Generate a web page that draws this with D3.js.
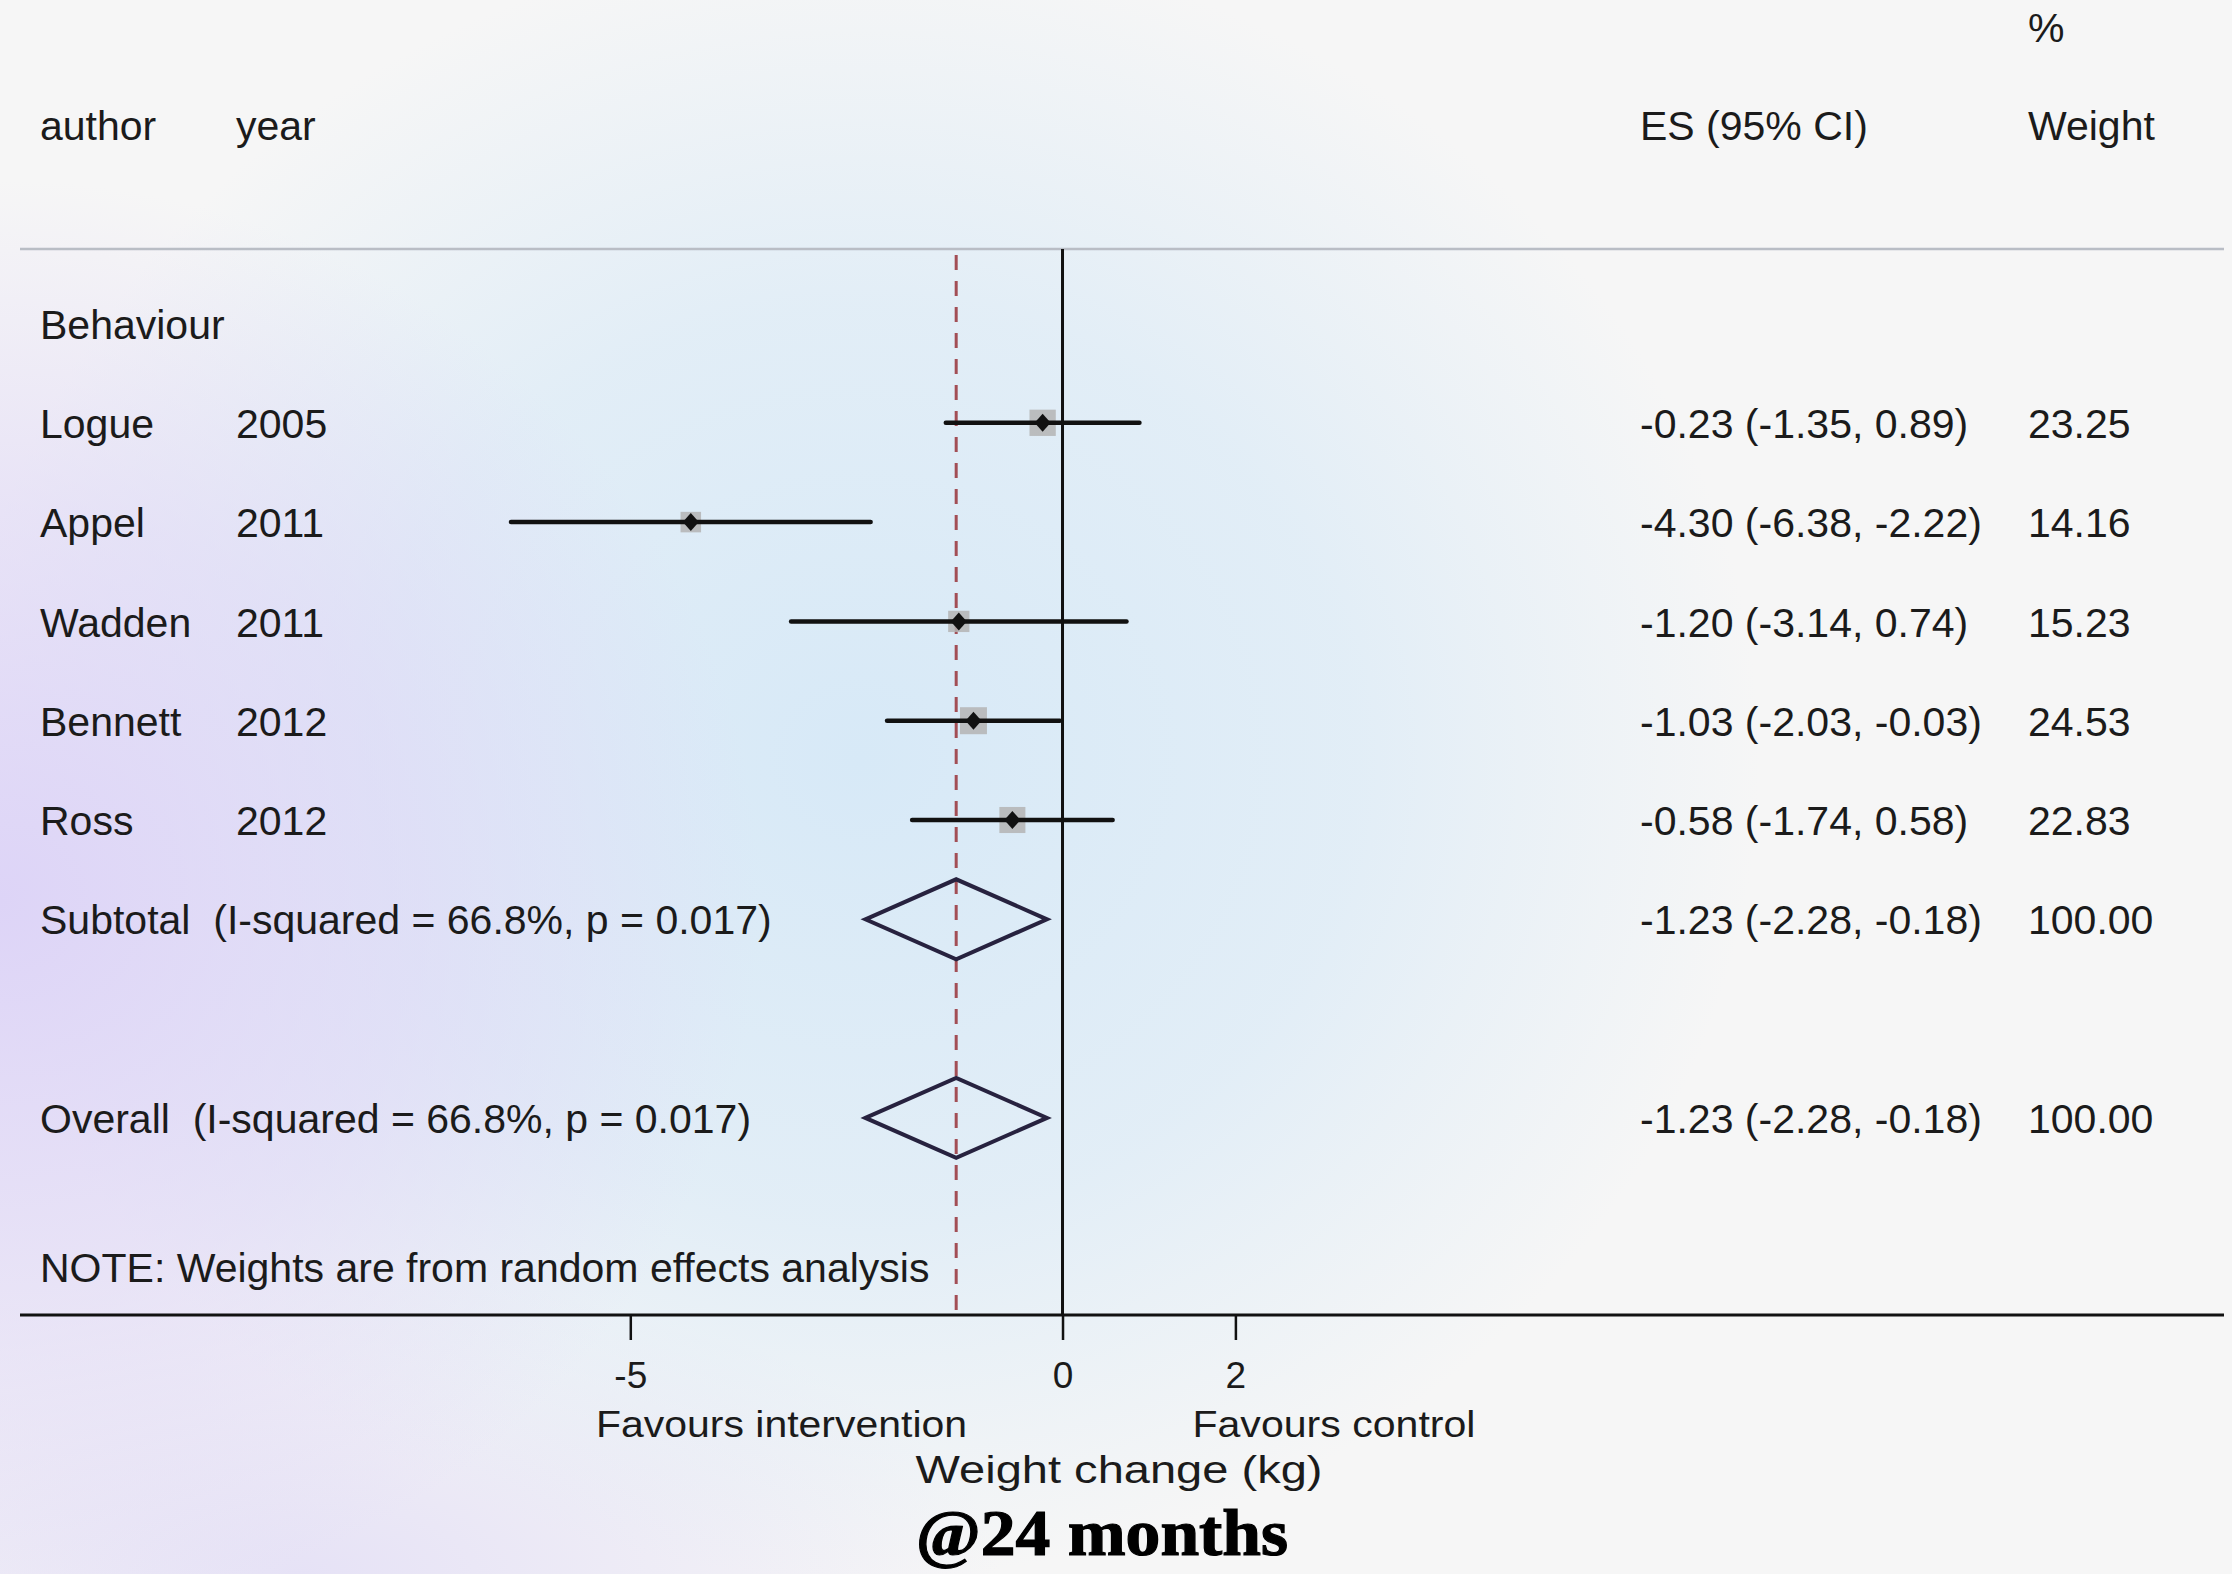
<!DOCTYPE html>
<html>
<head>
<meta charset="utf-8">
<script src="https://cdn.jsdelivr.net/npm/d3@7"></script>
<style>
  html, body { margin: 0; padding: 0; }
  body {
    width: 2232px;
    height: 1574px;
    overflow: hidden;
    background-color: #f6f6f6;
    background-image:
      radial-gradient(ellipse 760px 720px at 0px 900px, rgba(221,212,247,1) 0%, rgba(221,212,247,0.55) 55%, rgba(221,212,247,0) 100%),
      radial-gradient(ellipse 900px 820px at 860px 760px, rgba(215,233,247,1) 0%, rgba(215,233,247,0.65) 55%, rgba(215,233,247,0) 100%),
      radial-gradient(ellipse 700px 300px at 300px 1574px, rgba(230,226,246,1) 0%, rgba(230,226,246,0) 100%);
  }
  svg { display: block; }
  text { font-family: "Liberation Sans", Arial, sans-serif; fill: #1b1b1b; }
</style>
</head>
<body>
<svg id="chart" width="2232" height="1574"></svg>
<script>
// study rows
const authors = ['Logue', 'Appel', 'Wadden', 'Bennett', 'Ross'];
const years = [2005, 2011, 2011, 2012, 2012];
const es = [-0.23, -4.30, -1.20, -1.03, -0.58];
const lo = [-1.35, -6.38, -3.14, -2.03, -1.74];
const hi = [0.89, -2.22, 0.74, -0.03, 0.58];
const weights = [23.25, 14.16, 15.23, 24.53, 22.83];

// pooled rows
const pooledLabels = ['Subtotal  (I-squared = 66.8%, p = 0.017)', 'Overall  (I-squared = 66.8%, p = 0.017)'];
const pooledES = [-1.23, -1.23];
const pooledLo = [-2.28, -2.28];
const pooledHi = [-0.18, -0.18];
const pooledWeight = [100, 100];

const groupLabel = 'Behaviour';
const note = 'NOTE: Weights are from random effects analysis';
const xTicks = [-5, 0, 2];
const favours = ['Favours intervention', 'Favours control'];
const favoursAt = [-3.25, 3.14];

const svg = d3.select('#chart');

const left = 20, right = 2224;
const headerY = 249, axisY = 1315;
const colAuthor = 40, colYear = 236, colES = 1640, colW = 2028;
const fs = 41;

const x = d3.scaleLinear().domain([-5, 2]).range([630.3, 1235.4]);
// row index -> vertical centre
const y = d3.scaleLinear().domain([0, 1]).range([323.5, 422.8]);
const boxSide = d3.scaleSqrt().domain([0, 100]).range([0, 54.5]);

// plain hyphen for negatives, like the original output
const locale = d3.formatLocale({decimal: '.', thousands: ',', grouping: [3], currency: ['', ''], minus: '-'});
const f2 = locale.format('.2f');
const ciText = (e, l, h) => `${f2(e)} (${f2(l)}, ${f2(h)})`;

const studies = authors.map((a, i) => ({
  author: a, year: years[i], es: es[i], lo: lo[i], hi: hi[i], w: weights[i], row: i + 1
}));
const pooled = pooledLabels.map((l, i) => ({
  label: l, es: pooledES[i], lo: pooledLo[i], hi: pooledHi[i], w: pooledWeight[i], row: i === 0 ? 6 : 8
}));

// header
const head = svg.append('g').attr('font-size', fs);
head.append('text').attr('x', colAuthor).attr('y', 140).text('author');
head.append('text').attr('x', colYear).attr('y', 140).text('year');
head.append('text').attr('x', colES).attr('y', 140).text('ES (95% CI)');
head.append('text').attr('x', colW).attr('y', 42).text('%');
head.append('text').attr('x', colW).attr('y', 140).text('Weight');

svg.append('line')
  .attr('x1', left).attr('x2', right)
  .attr('y1', headerY).attr('y2', headerY)
  .attr('stroke', '#b9bdc5').attr('stroke-width', 2.5);

// reference lines
svg.append('line')
  .attr('x1', x(0)).attr('x2', x(0))
  .attr('y1', headerY).attr('y2', axisY)
  .attr('stroke', '#111').attr('stroke-width', 3);

svg.append('line')
  .attr('x1', x(pooledES[1])).attr('x2', x(pooledES[1]))
  .attr('y1', headerY + 6).attr('y2', axisY)
  .attr('stroke', '#a24e55').attr('stroke-width', 3)
  .attr('stroke-dasharray', '15 11');

// study rows
const rows = svg.append('g').attr('font-size', fs);
rows.append('text').attr('x', colAuthor).attr('y', y(0)).attr('dy', '0.37em').text(groupLabel);

const srow = rows.selectAll('.study').data(studies).join('g').attr('class', 'study');
srow.append('text').attr('x', colAuthor).attr('y', (d) => y(d.row)).attr('dy', '0.37em').text((d) => d.author);
srow.append('text').attr('x', colYear).attr('y', (d) => y(d.row)).attr('dy', '0.37em').text((d) => d.year);
srow.append('text').attr('x', colES).attr('y', (d) => y(d.row)).attr('dy', '0.37em').text((d) => ciText(d.es, d.lo, d.hi));
srow.append('text').attr('x', colW).attr('y', (d) => y(d.row)).attr('dy', '0.37em').text((d) => f2(d.w));

srow.append('rect')
  .attr('x', (d) => x(d.es) - boxSide(d.w) / 2)
  .attr('y', (d) => y(d.row) - boxSide(d.w) / 2)
  .attr('width', (d) => boxSide(d.w))
  .attr('height', (d) => boxSide(d.w))
  .attr('fill', '#b4b4b4').attr('fill-opacity', 0.85);

srow.append('line')
  .attr('x1', (d) => x(d.lo)).attr('x2', (d) => x(d.hi))
  .attr('y1', (d) => y(d.row)).attr('y2', (d) => y(d.row))
  .attr('stroke', '#111').attr('stroke-width', 4.5).attr('stroke-linecap', 'round');

srow.append('path')
  .attr('d', (d) => {
    const cx = x(d.es), cy = y(d.row);
    return `M${cx - 8},${cy}L${cx},${cy - 9}L${cx + 8},${cy}L${cx},${cy + 9}Z`;
  })
  .attr('fill', '#111');

// pooled rows
const prow = rows.selectAll('.pooled').data(pooled).join('g').attr('class', 'pooled');
prow.append('text').attr('x', colAuthor).attr('y', (d) => y(d.row)).attr('dy', '0.37em')
  .style('white-space', 'pre').text((d) => d.label);
prow.append('text').attr('x', colES).attr('y', (d) => y(d.row)).attr('dy', '0.37em').text((d) => ciText(d.es, d.lo, d.hi));
prow.append('text').attr('x', colW).attr('y', (d) => y(d.row)).attr('dy', '0.37em').text((d) => f2(d.w));
prow.append('path')
  .attr('d', (d) => {
    const cy = y(d.row);
    return `M${x(d.lo)},${cy}L${x(d.es)},${cy - 40}L${x(d.hi)},${cy}L${x(d.es)},${cy + 40}Z`;
  })
  .attr('fill', 'none').attr('stroke', '#27223f').attr('stroke-width', 4).attr('stroke-linejoin', 'miter');

rows.append('text').attr('x', colAuthor).attr('y', y(9.5)).attr('dy', '0.37em').text(note);

// x axis
svg.append('line')
  .attr('x1', left).attr('x2', right)
  .attr('y1', axisY).attr('y2', axisY)
  .attr('stroke', '#111').attr('stroke-width', 3);

const xAxis = d3.axisBottom(x).tickValues(xTicks).tickSize(25).tickPadding(22).tickFormat(locale.format('d'));
svg.append('g')
  .attr('transform', `translate(0,${axisY})`)
  .call(xAxis)
  .call((g) => g.select('.domain').remove())
  .call((g) => g.selectAll('.tick line').attr('stroke', '#111').attr('stroke-width', 2.5))
  .call((g) => g.selectAll('.tick text')
    .attr('font-size', 37)
    .attr('font-family', '"Liberation Sans", Arial, sans-serif')
    .attr('fill', '#1b1b1b'));

svg.append('g').selectAll('text').data(favours).join('text')
  .attr('x', (d, i) => x(favoursAt[i]))
  .attr('y', 1437)
  .attr('text-anchor', 'middle')
  .attr('font-size', 36)
  .attr('textLength', (d, i) => (i === 0 ? 371 : 283))
  .attr('lengthAdjust', 'spacingAndGlyphs')
  .text((d) => d);

svg.append('text')
  .attr('x', 1119).attr('y', 1483)
  .attr('text-anchor', 'middle')
  .attr('font-size', 38)
  .attr('textLength', 407)
  .attr('lengthAdjust', 'spacingAndGlyphs')
  .text('Weight change (kg)');

svg.append('text')
  .attr('x', 1102).attr('y', 1555)
  .attr('text-anchor', 'middle')
  .attr('font-size', 66)
  .attr('font-weight', 'bold')
  .style('font-family', '"Liberation Serif", "DejaVu Serif", serif')
  .style('fill', '#000')
  .attr('stroke', '#000').attr('stroke-width', 1.2)
  .attr('textLength', 372)
  .attr('lengthAdjust', 'spacingAndGlyphs')
  .text('@24 months');
</script>
</body>
</html>
